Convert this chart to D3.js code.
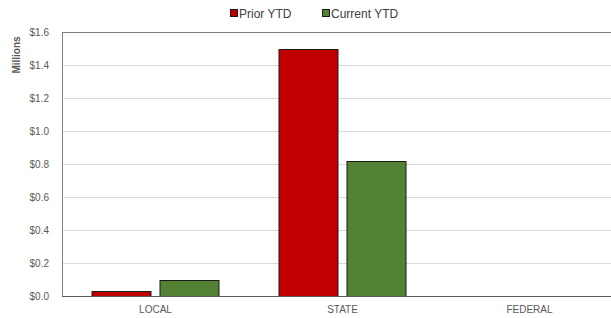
<!DOCTYPE html>
<html>
<head>
<meta charset="utf-8">
<script src="https://cdn.jsdelivr.net/npm/d3@7"></script>
<style>
  body { margin: 0; background: #fff; overflow: hidden; }
  text { font-family: "Liberation Sans", Arial, sans-serif; }
</style>
</head>
<body>
<svg id="chart" width="611" height="318"></svg>
<script>
// chart data
const categories = ['LOCAL', 'STATE', 'FEDERAL']
const seriesNames = ['Prior YTD', 'Current YTD']
const priorYTD = [0.03, 1.5, 0]
const currentYTD = [0.1, 0.82, 0]
const yTicks = [0, 0.2, 0.4, 0.6, 0.8, 1.0, 1.2, 1.4, 1.6]

const colors = ['#c00000', '#548235']
const margin = { top: 32, left: 62, bottom: 22 }
const plotW = 561, plotH = 264

const svg = d3.select('#chart')
const g = svg.append('g').attr('transform', `translate(${margin.left},${margin.top})`)

const x = d3.scaleBand().domain(categories).range([0, plotW])
const y = d3.scaleLinear().domain([0, 1.6]).range([plotH, 0])

// gridlines
g.append('g')
  .selectAll('line')
  .data(yTicks.slice(1))
  .join('line')
  .attr('x1', 0).attr('x2', plotW)
  .attr('y1', d => Math.round(y(d)) + 0.5).attr('y2', d => Math.round(y(d)) + 0.5)
  .attr('stroke', '#d9d9d9')

// plot border (top, left)
g.append('line').attr('x1', 0.5).attr('x2', plotW).attr('y1', 0.5).attr('y2', 0.5).attr('stroke', '#808080')
g.append('line').attr('x1', 0.5).attr('x2', 0.5).attr('y1', 0).attr('y2', plotH).attr('stroke', '#808080')

// bars
const barW = 60, gap = 8
const series = [priorYTD, currentYTD]
series.forEach((vals, si) => {
  g.append('g')
    .selectAll('rect')
    .data(vals)
    .join('rect')
    .attr('x', (d, i) => x(categories[i]) + x.bandwidth() / 2 + (si === 0 ? -gap / 2 - barW : gap / 2) + 0.5)
    .attr('y', d => Math.round(y(d)) + 0.5)
    .attr('width', barW - 1)
    .attr('height', d => Math.max(0, plotH - Math.round(y(d))))
    .attr('fill', colors[si])
    .attr('stroke', d => d > 0 ? '#1a1a1a' : 'none')
    .attr('stroke-width', 1)
})

// bottom axis line
g.append('line').attr('x1', 0).attr('x2', plotW).attr('y1', plotH + 0.5).attr('y2', plotH + 0.5).attr('stroke', '#595959')

// y tick labels
g.append('g')
  .selectAll('text')
  .data(yTicks)
  .join('text')
  .attr('x', -13)
  .attr('y', d => y(d))
  .attr('dy', '0.35em')
  .attr('text-anchor', 'end')
  .attr('font-size', 10)
  .attr('fill', '#595959')
  .text(d => '$' + d.toFixed(1))

// x labels
g.append('g')
  .selectAll('text')
  .data(categories)
  .join('text')
  .attr('x', d => x(d) + x.bandwidth() / 2)
  .attr('y', plotH + 17)
  .attr('text-anchor', 'middle')
  .attr('font-size', 10)
  .attr('fill', '#595959')
  .text(d => d)

// y axis title
svg.append('text')
  .attr('transform', 'translate(20,55) rotate(-90)')
  .attr('text-anchor', 'middle')
  .attr('font-size', 10)
  .attr('font-weight', 'bold')
  .attr('fill', '#595959')
  .text('Millions')

// legend
const legendX = [230, 322]
const legend = svg.append('g')
seriesNames.forEach((name, i) => {
  legend.append('rect')
    .attr('x', legendX[i] + 0.5).attr('y', 9.5)
    .attr('width', 7).attr('height', 7)
    .attr('fill', colors[i]).attr('stroke', '#1a1a1a')
  legend.append('text')
    .attr('x', legendX[i] + 9).attr('y', 17.5)
    .attr('font-size', 12)
    .attr('fill', '#404040')
    .text(name)
})
</script>
</body>
</html>
